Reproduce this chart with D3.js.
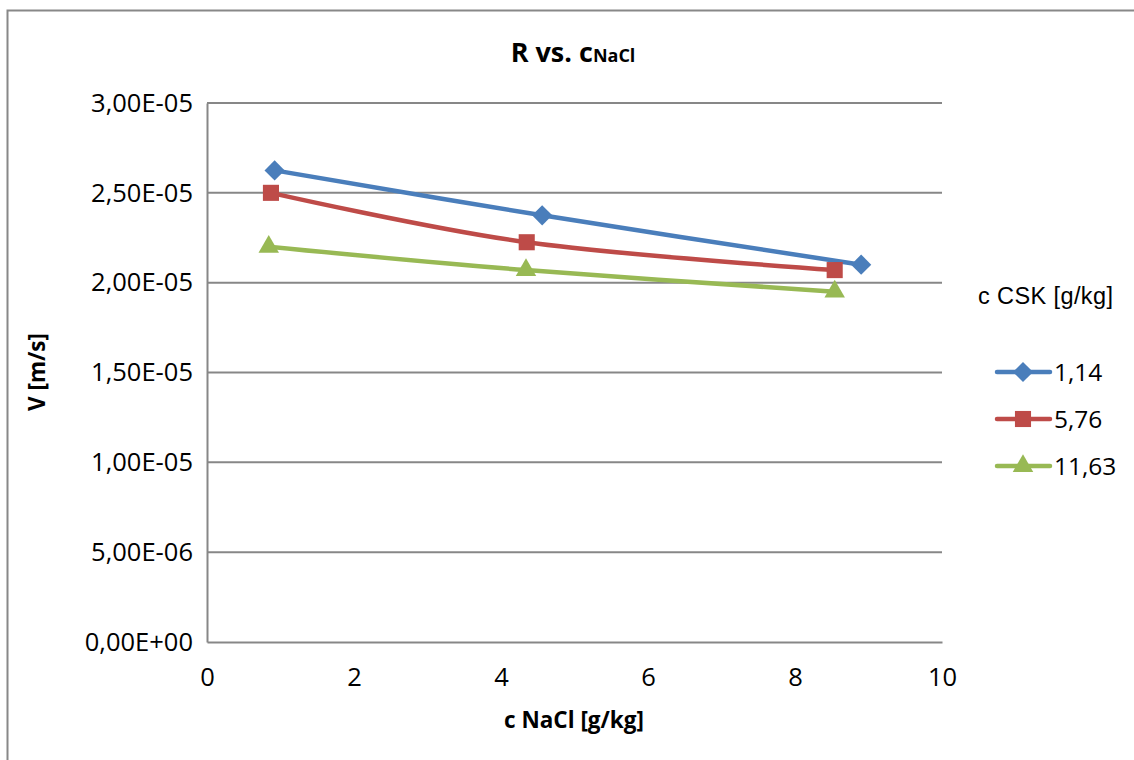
<!DOCTYPE html>
<html><head><meta charset="utf-8">
<script src="https://cdn.jsdelivr.net/npm/d3@7"></script>
<style>body{margin:0;background:#fff}</style>
</head><body>
<svg id="c" width="1134" height="760"></svg>
<script>
const seriesNames = ["1,14", "5,76", "11,63"];
const colors = ["#4a7ebb", "#be4b48", "#98b954"];
const symbols = ["diamond", "square", "triangle"];
const xBlue = [0.92, 4.56, 8.90];
const yBlue = [2.625e-5, 2.375e-5, 2.10e-5];
const xRed = [0.87, 4.35, 8.54];
const yRed = [2.50e-5, 2.225e-5, 2.07e-5];
const xGreen = [0.84, 4.34, 8.54];
const yGreen = [2.20e-5, 2.07e-5, 1.95e-5];
const xTicks = [0, 2, 4, 6, 8, 10];
const yTicks = [0, 5e-6, 1e-5, 1.5e-5, 2e-5, 2.5e-5, 3e-5];
const yTickLabels = ["0,00E+00","5,00E-06","1,00E-05","1,50E-05","2,00E-05","2,50E-05","3,00E-05"];

const series = [[xBlue,yBlue],[xRed,yRed],[xGreen,yGreen]].map((s,i)=>({
  name: seriesNames[i], color: colors[i], sym: symbols[i],
  pts: s[0].map((x,j)=>({x, y: s[1][j]}))
}));

const svg = d3.select("#c");
const font = "'Open Sans', Lato, sans-serif";
svg.append("rect").attr("x",7.5).attr("y",10.5).attr("width",1140).attr("height",760)
  .attr("fill","#fff").attr("stroke","#888").attr("stroke-width",2);

const x = d3.scaleLinear().domain([0,10]).range([207,942]);
const y = d3.scaleLinear().domain([0,3e-5]).range([642,103]);

// gridlines
svg.append("g").selectAll("line").data(yTicks.slice(1)).join("line")
  .attr("x1",x(0)).attr("x2",x(10)).attr("y1",d=>y(d)).attr("y2",d=>y(d))
  .attr("stroke","#878787").attr("stroke-width",2);

// axes
const yAxis = svg.append("g").attr("transform",`translate(${x(0)},0)`)
  .call(d3.axisLeft(y).tickValues(yTicks).tickFormat((d,i)=>yTickLabels[i]).tickSize(0).tickPadding(14));
yAxis.select(".domain").attr("stroke","#878787").attr("stroke-width",2);
yAxis.selectAll("text").attr("font-family",font).attr("font-size",25.5).attr("fill","#000");
const xAxis = svg.append("g").attr("transform",`translate(0,${y(0)})`)
  .call(d3.axisBottom(x).tickValues(xTicks).tickSize(0).tickPadding(26));
xAxis.select(".domain").attr("stroke","#878787").attr("stroke-width",2);
xAxis.selectAll("text").attr("font-family",font).attr("font-size",25.5).attr("fill","#000");

// lines
const line = d3.line().x(d=>x(d.x)).y(d=>y(d.y)).curve(d3.curveCardinal.tension(0));
const symMap = {diamond: d3.symbolDiamond2, square: d3.symbolSquare2, triangle: d3.symbolTriangle2};
const symSize = {diamond: 260, square: 330, triangle: 300};
series.forEach(s=>{
  svg.append("path").datum(s.pts).attr("d",line).attr("fill","none")
    .attr("stroke",s.color).attr("stroke-width",4.5).attr("stroke-linecap","round");
});
series.forEach(s=>{
  svg.append("g").selectAll("path").data(s.pts).join("path")
    .attr("d",d3.symbol().type(symMap[s.sym]).size(symSize[s.sym]))
    .attr("transform",d=>`translate(${x(d.x)},${y(d.y)})`)
    .attr("fill",s.color);
});

// title
const title = svg.append("text").attr("x",573).attr("y",62).attr("text-anchor","middle")
  .attr("font-family",font).attr("font-weight","bold").attr("font-size",27);
title.append("tspan").text("R vs. ");
title.append("tspan").text("c");
title.append("tspan").attr("font-size",18).text("NaCl");

// axis titles
svg.append("text").attr("x",574).attr("y",728).attr("text-anchor","middle")
  .attr("font-family",font).attr("font-weight","bold").attr("font-size",22.5).text("c NaCl [g/kg]");
svg.append("text").attr("transform","translate(45,372) rotate(-90)").attr("text-anchor","middle")
  .attr("font-family",font).attr("font-weight","bold").attr("font-size",22.5).text("V [m/s]");

// legend
svg.append("text").attr("x",978).attr("y",304).attr("font-family","'Liberation Sans', Arial, sans-serif")
  .attr("font-size",23.5).attr("textLength",135).text("c CSK [g/kg]");
series.forEach((s,i)=>{
  const ly = 372 + i*47;
  svg.append("line").attr("x1",997).attr("x2",1050).attr("y1",ly).attr("y2",ly)
    .attr("stroke",s.color).attr("stroke-width",4.5).attr("stroke-linecap","round");
  svg.append("path").attr("d",d3.symbol().type(symMap[s.sym]).size(symSize[s.sym])())
    .attr("transform",`translate(1023,${ly})`).attr("fill",s.color);
  svg.append("text").attr("x",1054).attr("y",ly+9).attr("font-family",font)
    .attr("font-size",24.5).text(s.name);
});
</script>
</body></html>
